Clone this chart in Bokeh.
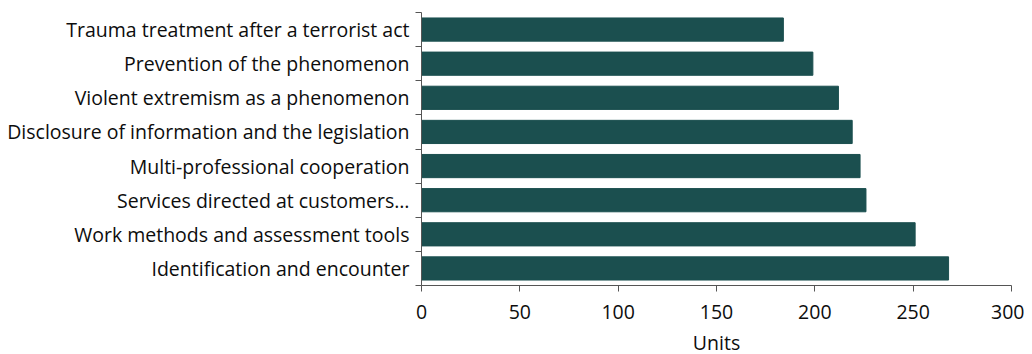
from bokeh.plotting import figure
from bokeh.models import FixedTicker, Range1d
from bokeh.embed import file_html
from bokeh.resources import INLINE

categories = [
    "Identification and encounter",
    "Work methods and assessment tools",
    "Services directed at customers\u2026",
    "Multi-professional cooperation",
    "Disclosure of information and the legislation",
    "Violent extremism as a phenomenon",
    "Prevention of the phenomenon",
    "Trauma treatment after a terrorist act",
]
values = [268, 251, 226, 223, 219, 212, 199, 184]
x_ticks = [0, 50, 100, 150, 200, 250, 300]
x_label = "Units"

FONT = "Open Sans"
FS = "19.5px"
BAR = "#1b4f4f"
AXIS = "#555555"
TXT = "#0d0d0d"

n = len(categories)
ys = list(range(n))

p = figure(
    width=1024, height=350,
    frame_width=590, frame_height=273,
    min_border_left=421, min_border_right=13,
    min_border_top=12, min_border_bottom=65,
    x_range=Range1d(0, 300), y_range=Range1d(-0.5, n - 0.5),
    output_backend="svg", toolbar_location=None,
)
p.outline_line_color = None
p.grid.visible = False
p.background_fill_color = "white"
p.border_fill_color = "white"

p.hbar(y=ys, right=values, left=0, height=0.68, fill_color=BAR, line_color=BAR)

xa = p.xaxis[0]
xa.ticker = FixedTicker(ticks=x_ticks)
xa.axis_label = x_label
xa.axis_label_text_font = FONT
xa.axis_label_text_font_style = "normal"
xa.axis_label_text_font_size = FS
xa.axis_label_text_color = TXT
xa.major_label_text_font = FONT
xa.major_label_text_font_size = FS
xa.major_label_text_color = TXT
xa.major_tick_in = 0
xa.major_tick_out = 6
xa.minor_tick_out = 0
xa.minor_tick_in = 0
xa.axis_line_color = AXIS
xa.major_tick_line_color = AXIS
xa.major_label_standoff = 13
xa.axis_label_standoff = 7

ya = p.yaxis[0]
ya.ticker = FixedTicker(ticks=ys, minor_ticks=[i - 0.5 for i in range(n + 1)])
ya.major_label_overrides = {i: c for i, c in enumerate(categories)}
ya.major_label_text_font = FONT
ya.major_label_text_font_size = FS
ya.major_label_text_color = TXT
ya.major_tick_in = 0
ya.major_tick_out = 0
ya.minor_tick_in = 0
ya.minor_tick_out = 6
ya.minor_tick_line_color = AXIS
ya.axis_line_color = AXIS
ya.major_label_standoff = 6

open("out.html", "w").write(file_html(p, INLINE))
